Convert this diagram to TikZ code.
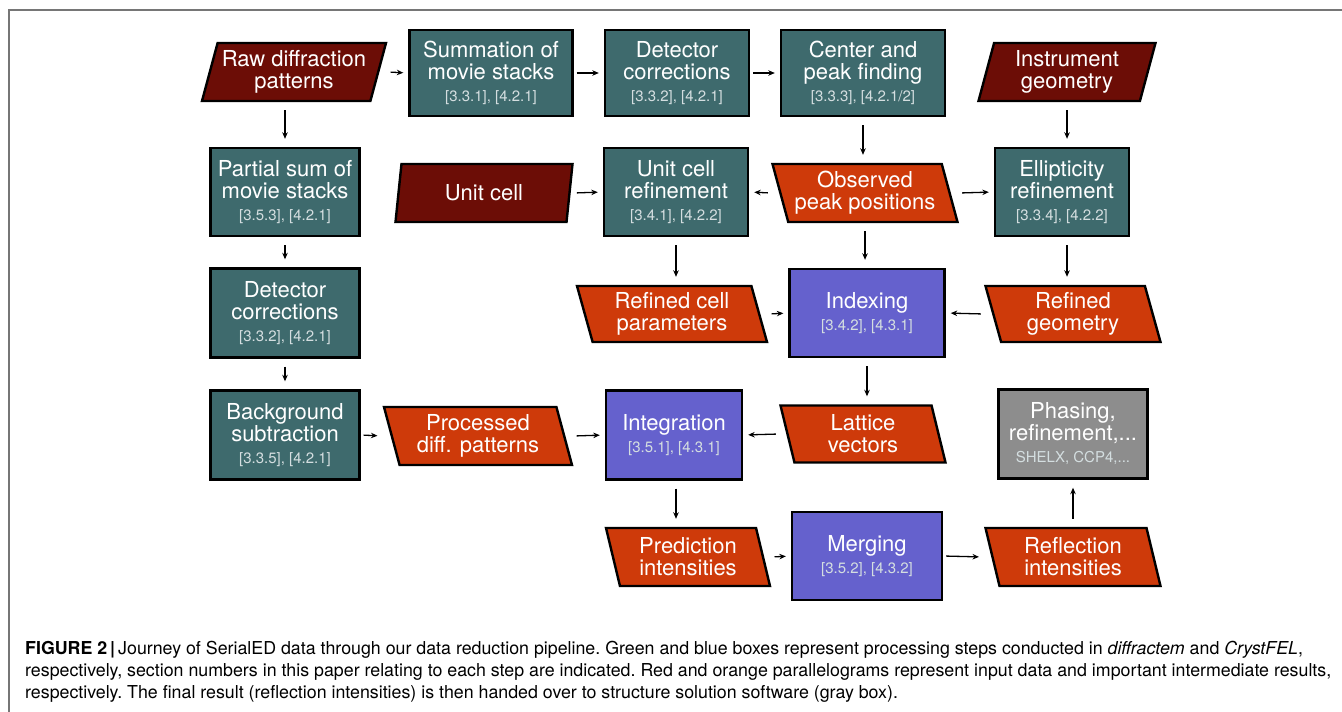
\documentclass[tikz,border=0pt]{standalone}
\usepackage{fontspec}
\setmainfont{TeX Gyre Heros}
\usepackage{xcolor}
\usetikzlibrary{arrows.meta,shapes.geometric}
\definecolor{procteal}{RGB}{62,106,109}
\definecolor{inred}{RGB}{108,13,6}
\definecolor{midorange}{RGB}{206,58,10}
\definecolor{cfblue}{RGB}{101,97,205}
\definecolor{solgray}{RGB}{141,141,141}
\definecolor{reftext}{RGB}{212,222,224}
\definecolor{framegray}{RGB}{118,118,118}
\newcommand{\secnum}[1]{{\fontsize{15}{15}\selectfont\color{reftext}#1}}

\begin{document}
\begin{tikzpicture}[x=1pt,y=-1pt,
  box/.style={draw=black,line width=2.4pt,text=white,align=center,inner sep=0pt,
    font=\fontsize{22}{22}\selectfont},
  proc/.style={box,fill=procteal},
  cfel/.style={box,fill=cfblue},
  solv/.style={box,fill=solgray},
  slant/.style={box,trapezium,trapezium stretches body},
  indata/.style={slant,fill=inred,trapezium left angle=70,trapezium right angle=110},
  result/.style={slant,fill=midorange,trapezium left angle=110,trapezium right angle=70},
  flow/.style={-{Stealth[length=6.5pt,width=5.5pt]},line width=1.3pt}]
\clip (0,0) rectangle (1342,712);
\fill[white] (0,0) rectangle (1342,712);
\draw[framegray,line width=1.5pt] (9,730) -- (9,10) -- (1360,10);

% row 1
\node[indata,minimum width=184pt,minimum height=58pt] (raw) at (294,72) {Raw diffraction\\patterns};
\node[proc,minimum width=163pt,minimum height=86pt] (summ) at (491,73) {Summation of\\movie stacks\\\secnum{[3.3.1], [4.2.1]}};
\node[proc,minimum width=144pt,minimum height=86pt] (detA) at (677,73) {Detector\\corrections\\\secnum{[3.3.2], [4.2.1]}};
\node[proc,minimum width=164pt,minimum height=86pt] (cpf) at (863,73) {Center and\\peak finding\\\secnum{[3.3.3], [4.2.1/2]}};
\node[indata,minimum width=177pt,minimum height=58pt] (instr) at (1067,72) {Instrument\\geometry};
% row 2
\node[proc,minimum width=149pt,minimum height=88pt] (partial) at (285,192) {Partial sum of\\movie stacks\\\secnum{[3.5.3], [4.2.1]}};
\node[indata,minimum width=177pt,minimum height=58pt] (ucell) at (484,193) {Unit cell};
\node[proc,minimum width=144pt,minimum height=88pt] (ucref) at (676,192) {Unit cell\\refinement\\\secnum{[3.4.1], [4.2.2]}};
\node[result,minimum width=185pt,minimum height=58pt] (obs) at (865,193) {Observed\\peak positions};
\node[proc,minimum width=134pt,minimum height=88pt] (ellip) at (1062,192) {Ellipticity\\refinement\\\secnum{[3.3.4], [4.2.2]}};
% row 3
\node[proc,minimum width=149pt,minimum height=89pt] (detB) at (285,313) {Detector\\corrections\\\secnum{[3.3.2], [4.2.1]}};
\node[result,minimum width=190pt,minimum height=56pt] (rcell) at (672,314) {Refined cell\\parameters};
\node[cfel,minimum width=155pt,minimum height=88pt] (index) at (867,313) {Indexing\\\secnum{[3.4.2], [4.3.1]}};
\node[result,minimum width=175pt,minimum height=56pt] (rgeom) at (1073,314) {Refined\\geometry};
% row 4
\node[proc,minimum width=149pt,minimum height=89pt] (bgsub) at (285,435) {Background\\subtraction\\\secnum{[3.3.5], [4.2.1]}};
\node[result,minimum width=188pt,minimum height=58pt] (procd) at (478,436) {Processed\\diff. patterns};
\node[cfel,minimum width=136pt,minimum height=89pt] (integ) at (674,435) {Integration\\\secnum{[3.5.1], [4.3.1]}};
\node[result,minimum width=165pt,minimum height=57pt] (latt) at (863,434) {Lattice\\vectors};
\node[solv,minimum width=149pt,minimum height=89pt] (phas) at (1073,434) {Phasing,\\refinement,...\\\secnum{SHELX, CCP4,...}};
% row 5
\node[result,minimum width=164pt,minimum height=58pt] (pred) at (688,557) {Prediction\\intensities};
\node[cfel,minimum width=150pt,minimum height=88pt] (merge) at (867,556) {Merging\\\secnum{[3.5.2], [4.3.2]}};
\node[result,minimum width=175pt,minimum height=58pt] (refl) at (1073,557) {Reflection\\intensities};

% horizontal arrows
\path[flow,shorten <=3pt,shorten >=5pt]
(raw.top right corner |- raw.center) edge (summ.west)
(summ.east) edge (detA.west)
(detA.east) edge (cpf.west)
(ucell.top right corner |- ucell.center) edge (ucref.west)
(obs.top left corner |- obs.center) edge (ucref.east)
(obs.bottom right corner |- obs.center) edge (ellip.west)
(rcell.bottom right corner |- rcell.center) edge (index.west)
(rgeom.top left corner |- rgeom.center) edge (index.east)
(bgsub.east) edge (procd.top left corner |- procd.center)
(procd.bottom right corner |- procd.center) edge (integ.west)
(latt.top left corner |- latt.center) edge (integ.east)
(pred.bottom right corner |- pred.center) edge (merge.west)
(merge.east) edge (refl.top left corner |- refl.center);
% vertical arrows
\path[flow,shorten <=8pt,shorten >=8pt]
(partial.north |- raw.south) edge (partial.north)
(partial.south) edge (detB.north)
(detB.south) edge (bgsub.north)
(cpf.south) edge (cpf.south |- obs.north)
(instr.south) edge (instr.south |- ellip.north)
(ucref.south) edge (ucref.south |- rcell.north)
(obs.south) edge (obs.south |- index.north)
(ellip.south -| instr.south) edge (instr.south |- rgeom.north)
(index.south) edge (index.south |- latt.north)
(integ.south -| ucref.south) edge (ucref.south |- pred.north)
(refl.north) edge (refl.north |- phas.south);

\node[anchor=north west,align=left,inner sep=0pt,
  font=\fontsize{17.8}{22}\selectfont\frenchspacing] (cap) at (25,641)
{\textbf{FIGURE 2}\,\textbf{|}\,Journey of SerialED data through our data reduction pipeline. Green and blue boxes represent processing steps conducted in \textit{diffractem} and \textit{CrystFEL},\\
respectively, section numbers in this paper relating to each step are indicated. Red and orange parallelograms represent input data and important intermediate results,\\
respectively. The final result (reflection intensities) is then handed over to structure solution software (gray box).};
\end{tikzpicture}
\end{document}
